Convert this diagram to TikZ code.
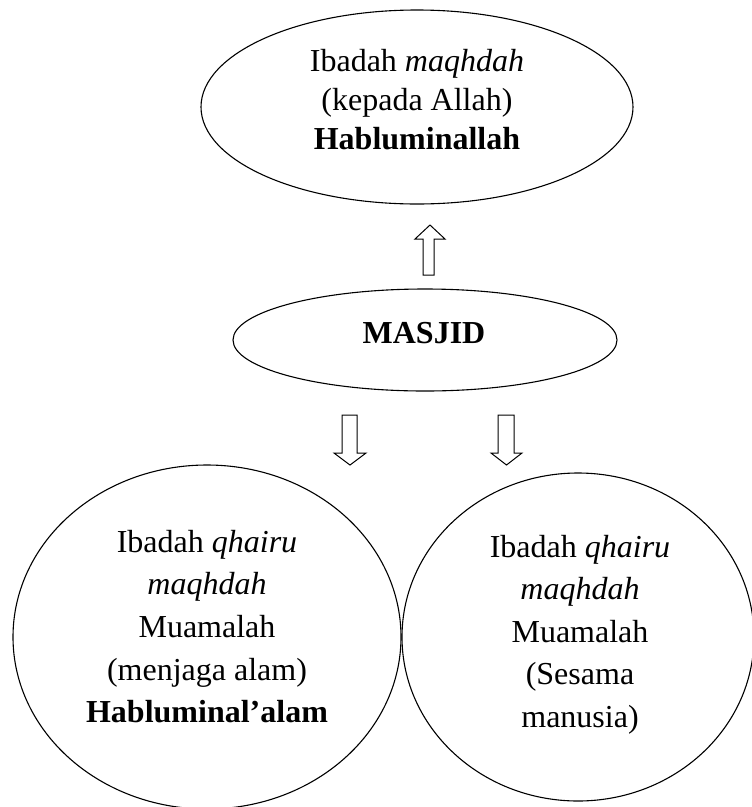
\documentclass[tikz,border=0pt]{standalone}
\usepackage{fontspec}
\setmainfont{Liberation Serif}
\usetikzlibrary{shapes.geometric}
\begin{document}
\begin{tikzpicture}[x=1pt,y=-1pt,
  oval/.style={draw, ellipse, line width=1.1pt, inner sep=0pt},
  txt/.style={align=center, inner sep=0pt, font=\fontsize{32}{39}\selectfont},
  txtb/.style={align=center, inner sep=0pt, font=\fontsize{32}{42.6}\selectfont},
  blockarrow/.style={draw, line width=1pt, line join=miter}]
\useasboundingbox (0,0) rectangle (752,807);
% ellipses
\node[oval, minimum width=432pt, minimum height=194pt] (top) at (417,107) {};
\node[oval, minimum width=384pt, minimum height=102pt] (masjid) at (425,340) {};
\node[oval, minimum width=388pt, minimum height=344pt] (left) at (207,637) {};
\node[oval, minimum width=352pt, minimum height=328pt] (right) at (578,637) {};
% texts
\node[txt] (toptext) at (417,100) {Ibadah \textit{maqhdah}\\(kepada Allah)\\\textbf{Habluminallah}};
\node[txt, anchor=base] (masjidtext) at (424,343) {\textbf{MASJID}};
\node[txtb] (lefttext) at (207,626.5) {Ibadah \textit{qhairu}\\\textit{maqhdah}\\Muamalah\\(menjaga alam)\\\textbf{Habluminal’alam}};
\node[txtb] (righttext) at (580,634.5) {Ibadah \textit{qhairu}\\\textit{maqhdah}\\Muamalah\\(Sesama\\manusia)};
% block arrows
\draw[blockarrow] (423,275) -- (423,239) -- (415,239) -- (430,225) -- (445,239) -- (434,239) -- (434,275) -- cycle;
\draw[blockarrow] (342,415) -- (342,453) -- (334,453) -- (350,465) -- (366,453) -- (357,453) -- (357,415) -- cycle;
\draw[blockarrow] (498,415) -- (498,453) -- (491,453) -- (506.5,465) -- (522,453) -- (514,453) -- (514,415) -- cycle;
\end{tikzpicture}
\end{document}
